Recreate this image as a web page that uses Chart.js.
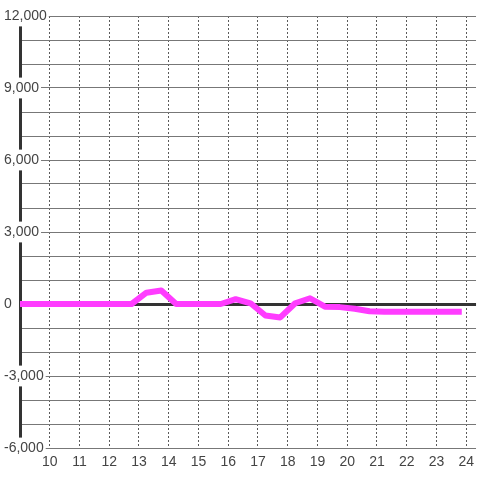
<!DOCTYPE html>
<html>
<head>
<meta charset="utf-8">
<script src="https://cdn.jsdelivr.net/npm/chart.js@4"></script>
<style>
  html, body { margin: 0; padding: 0; background: #fff; }
  #wrap { width: 480px; height: 480px; }
</style>
</head>
<body>
<div id="wrap"><canvas id="chart" width="480" height="480"></canvas></div>
<script>
/* ---------- DATA ---------- */
const hours = [8.75, 9.25, 9.75, 10.25, 10.75, 11.25, 11.75, 12.25, 12.75, 13.25,
  13.75, 14.25, 14.75, 15.25, 15.75, 16.25, 16.75, 17.25, 17.75, 18.25,
  18.75, 19.25, 19.75, 20.25, 20.75, 21.25, 21.75, 22.25, 22.75, 23.25, 23.75];
const values = [0, 0, 0, 0, 0, 0, 0, 0, 0, 470,
  560, 0, 0, 0, 0, 200, 30, -480, -560, 30,
  240, -110, -130, -200, -300, -320, -320, -320, -320, -320, -320];
const yLabelSteps = [-6000, -3000, 0, 3000, 6000, 9000, 12000];
const xLabels = [10, 11, 12, 13, 14, 15, 16, 17, 18, 19, 20, 21, 22, 23, 24];

const FONT = { family: '"Liberation Sans", Arial, sans-serif', size: 14 };

/* ---------- CHART ---------- */
new Chart(document.getElementById('chart'), {
  type: 'line',
  data: {
    datasets: [{
      data: hours.map((h, i) => ({ x: h, y: values[i] })),
      borderColor: '#ff3cff',
      borderWidth: 6,
      borderJoinStyle: 'round',
      borderCapStyle: 'square',
      pointRadius: 0,
      tension: 0,
      fill: false
    }]
  },
  options: {
    responsive: false,
    animation: false,
    layout: { padding: { left: 5, top: 16, right: 0, bottom: 0 } },
    plugins: { legend: { display: false }, tooltip: { enabled: false } },
    scales: {
      x: {
        type: 'linear',
        min: 9,
        max: 24.33,
        afterFit: s => { s.height = 32; },
        afterBuildTicks: s => {
          s.ticks = [9].concat(xLabels).map(v => ({ value: v }));
        },
        border: { display: false, dash: [2, 2] },
        grid: {
          drawTicks: false,
          color: '#5a5a5a',
          lineWidth: 1
        },
        ticks: {
          padding: 6,
          color: '#444',
          font: FONT,
          maxRotation: 0,
          autoSkip: false,
          z: 2,
          callback: v => xLabels.includes(v) ? String(v) : ''
        }
      },
      y: {
        min: -6000,
        max: 12000,
        afterFit: s => { s.width = 15; },
        border: { display: true, color: '#333', width: 3 },
        grid: {
          drawTicks: false,
          color: ctx => ctx.tick && ctx.tick.value === 0 ? '#333' : '#777',
          lineWidth: ctx => ctx.tick && ctx.tick.value === 0 ? 3 : 1
        },
        ticks: {
          stepSize: 1000,
          mirror: true,
          crossAlign: 'near',
          padding: -16,
          color: '#444',
          font: FONT,
          autoSkip: false,
          z: 1,
          showLabelBackdrop: true,
          backdropColor: '#fff',
          backdropPadding: 2,
          callback: v => yLabelSteps.includes(v) ? v.toLocaleString('en-US') : ''
        }
      }
    }
  }
});
</script>
</body>
</html>
